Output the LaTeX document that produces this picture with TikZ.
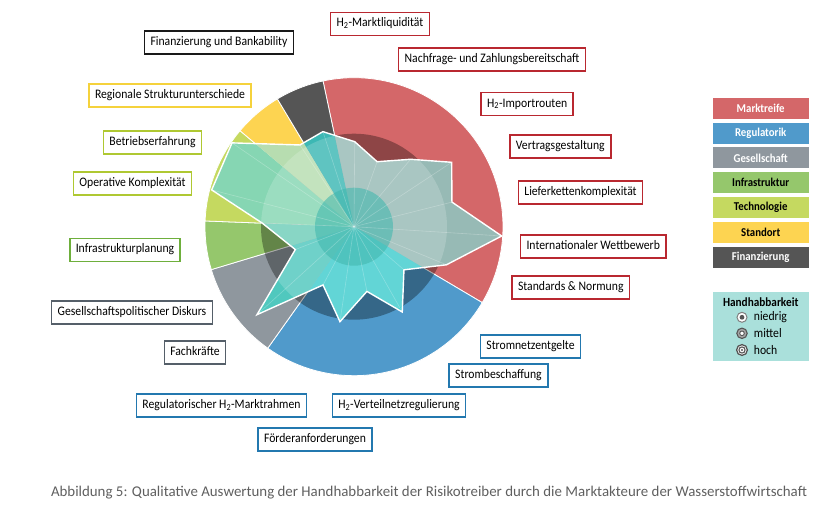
\documentclass[tikz,border=0pt]{standalone}
\usepackage{fontspec}
\setmainfont{Carlito}[FakeStretch=0.9]
\newfontfamily\capfont{Carlito}
\usepackage{tikz}

\definecolor{mr}{RGB}{212,103,105}
\definecolor{rg}{RGB}{80,154,203}
\definecolor{gs}{RGB}{143,151,158}
\definecolor{inf}{RGB}{149,199,108}
\definecolor{tc}{RGB}{197,217,96}
\definecolor{so}{RGB}{253,212,81}
\definecolor{fi}{RGB}{85,85,85}
\definecolor{mrO}{RGB}{151,186,181}
\definecolor{rgO}{RGB}{64,204,206}
\definecolor{gsO}{RGB}{80,200,190}
\definecolor{infO}{RGB}{110,205,185}
\definecolor{tcO}{RGB}{134,214,179}
\definecolor{soO}{RGB}{183,221,176}
\definecolor{fiO}{RGB}{60,184,180}
\definecolor{mrB}{RGB}{185,40,48}
\definecolor{rgB}{RGB}{35,120,175}
\definecolor{gsB}{RGB}{85,95,105}
\definecolor{infB}{RGB}{110,175,60}
\definecolor{tcB}{RGB}{175,200,50}
\definecolor{soB}{RGB}{245,210,60}
\definecolor{fiB}{RGB}{25,25,25}
\definecolor{core}{RGB}{66,184,174}
\definecolor{hb}{RGB}{170,224,219}
\definecolor{capgrey}{RGB}{95,95,95}

\begin{document}
\begin{tikzpicture}[x=1pt,y=1pt, font=\fontsize{13}{15}\selectfont,
    lbl/.style={draw=#1, line width=1.6pt, fill=white, inner xsep=6pt, inner ysep=0pt,
        minimum height=23pt, text height=9pt, text depth=3pt},
    key/.style={fill=#1, minimum width=96pt, minimum height=21pt, inner sep=0pt,
        font=\fontsize{12}{14}\selectfont\bfseries},
    spoke/.style={white, opacity=.25, line width=.6pt}]
    \useasboundingbox (-354,-302.3) rectangle (478,226.7);

    % outer ring by category
    \foreach \c/\e [remember=\e as \s (initially 102)] in
        {mr/-30.63, rg/-125.37, gs/-163.26, inf/-182.21, tc/-220.1, so/-239.05, fi/-258}
        \filldraw[fill=\c, draw=white, line width=.8pt] (0,0) -- (\s:149)
            arc[start angle=\s, end angle=\e, radius=149] -- cycle;
    \fill[black, opacity=.33] (0,0) circle (93);

    % radar
    \foreach \a/\r [count=\j from 0] in {89.5/85, 70.4/69, 50/88, 33.4/117, 14.1/101,
        -3.6/148, -22.4/100, -40.8/66, -60.5/98, -78.7/66, -98.4/96, -118/66,
        -137.8/131, -158.7/63, -182.3/92, -194.5/147, -214.5/148, -236.5/98, -251.9/100}
        \coordinate (v\j) at (\a:\r);
    \begin{scope}
        \clip (v0) \foreach \j in {1,...,18} {-- (v\j)} -- cycle;
        \foreach \c/\e [remember=\e as \s (initially 102)] in
            {mrO/-30.63, rgO/-125.37, gsO/-163.26, infO/-182.21, tcO/-220.1, soO/-239.05, fiO/-258}
            \fill[\c] (0,0) -- (\s:150) arc[start angle=\s, end angle=\e, radius=150] -- cycle;
        \fill[white, opacity=.18] (0,0) circle (93);
    \end{scope}
    \fill[core, opacity=.59] (0,0) circle (39);
    \foreach \j in {0,...,18}
        \draw[spoke] (0,0) -- (v\j);
    \draw[white, line width=1.4pt] (v0) \foreach \j in {1,...,18} {-- (v\j)} -- cycle;

    % drivers
    \node[lbl=mrB] (liquid) at (26,202.7) {H\textsubscript{2}-Marktliquidität};
    \node[lbl=mrB] (demand) at (138,167.2) {Nachfrage- und Zahlungsbereitschaft};
    \node[lbl=mrB] (import) at (173.2,122.5) {H\textsubscript{2}-Importrouten};
    \node[lbl=mrB] (contract) at (206.3,80) {Vertragsgestaltung};
    \node[lbl=mrB] (supply) at (226.5,34.2) {Lieferkettenkomplexität};
    \node[lbl=mrB] (compet) at (239.2,-20) {Internationaler Wettbewerb};
    \node[lbl=mrB] (norms) at (216.8,-61) {Standards \& Normung};
    \node[lbl=rgB] (gridfee) at (176.5,-119.8) {Stromnetzentgelte};
    \node[lbl=rgB] (power) at (144.5,-148.8) {Strombeschaffung};
    \node[lbl=rgB] (distrib) at (45,-178.8) {H\textsubscript{2}-Verteilnetzregulierung};
    \node[lbl=rgB] (funding) at (-39,-212.8) {Förderanforderungen};
    \node[lbl=rgB] (frame) at (-132.5,-178.8) {Regulatorischer H\textsubscript{2}-Marktrahmen};
    \node[lbl=gsB] (staff) at (-159,-125.8) {Fachkräfte};
    \node[lbl=gsB] (debate) at (-222,-85.8) {Gesellschaftspolitischer Diskurs};
    \node[lbl=infB] (planning) at (-229,-23.3) {Infrastrukturplanung};
    \node[lbl=tcB] (complex) at (-221.5,43.2) {Operative Komplexität};
    \node[lbl=tcB] (practice) at (-201.5,84.2) {Betriebserfahrung};
    \node[lbl=soB] (region) at (-184,131.2) {Regionale Strukturunterschiede};
    \node[lbl=fiB] (bank) at (-135,184.2) {Finanzierung und Bankability};

    % legend
    \foreach \c/\t/\f [count=\i from 0] in {mr/Marktreife/white, rg/Regulatorik/white,
        gs/Gesellschaft/white, inf/Infrastruktur/black, tc/Technologie/black,
        so/Standort/black, fi/Finanzierung/white}
        \node[key=\c, text=\f] (k\c) at (406.7,118.4-24.8*\i) {\t};
    \node[fill=hb, minimum width=96pt, minimum height=69pt, inner sep=0pt] (hbox) at (406.7,-99.5) {};
    \node[font=\fontsize{12.5}{14}\selectfont\bfseries] (htitle) at (406.7,-75.5) {Handhabbarkeit};
    \filldraw[fill=white, draw=gray, line width=1pt] (388,-90.6) circle (5);
    \fill[fi] (388,-90.6) circle (2.4);
    \filldraw[fill=gray!70, draw=fi, line width=1.1pt] (388,-106.6) circle (5.2);
    \filldraw[fill=white, draw=fi, line width=.9pt] (388,-106.6) circle (2.3);
    \filldraw[fill=white, draw=fi, line width=1.3pt] (388,-123.3) circle (5.4);
    \draw[fi, line width=1.1pt] (388,-123.3) circle (3.1);
    \fill[fi] (388,-123.3) circle (1.2);
    \node[anchor=west, inner sep=0pt] (low) at (399.7,-90.6) {niedrig};
    \node[anchor=west, inner sep=0pt] (mid) at (399.7,-106.6) {mittel};
    \node[anchor=west, inner sep=0pt] (high) at (399.7,-123.3) {hoch};

    \node[font=\capfont\fontsize{14.9}{17}\selectfont, text=capgrey] (caption) at (75,-266.3)
        {Abbildung 5: Qualitative Auswertung der Handhabbarkeit der Risikotreiber durch die Marktakteure der Wasserstoffwirtschaft};
\end{tikzpicture}
\end{document}
